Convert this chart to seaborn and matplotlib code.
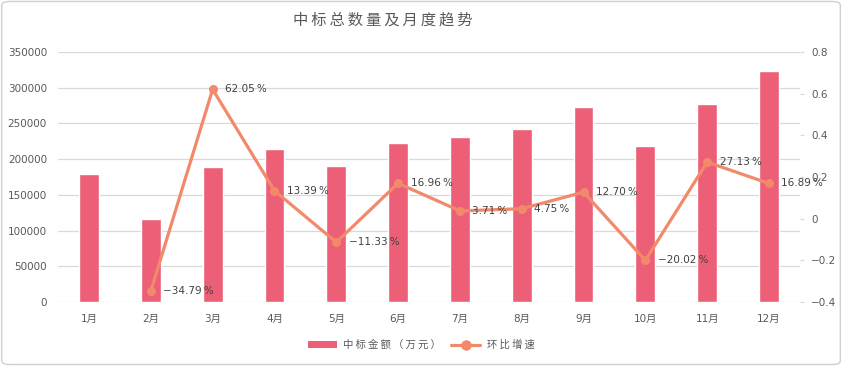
import numpy as np
import pandas as pd
import matplotlib
matplotlib.use('Agg')
import matplotlib.pyplot as plt
from matplotlib.patches import FancyBboxPatch, Patch
from matplotlib.lines import Line2D
import seaborn as sns

months = ['1月', '2月', '3月', '4月', '5月', '6月', '7月', '8月', '9月', '10月', '11月', '12月']
amount = [179000, 116700, 189100, 214400, 190100, 222400, 230600, 241600, 272300, 217800, 276900, 323700]
growth = [np.nan, -0.3479, 0.6205, 0.1339, -0.1133, 0.1696, 0.0371, 0.0475, 0.1270, -0.2002, 0.2713, 0.1689]

bar_color = '#EC5F77'
line_color = '#F2896B'
text_color = '#595959'

sns.set_style('white')
plt.rcParams['font.family'] = ['DejaVu Sans', 'Noto Sans CJK SC']
plt.rcParams['axes.unicode_minus'] = True

df = pd.DataFrame({'month': months, 'amount': amount, 'growth': growth})


def spaced(s):
    # letter spacing like the original chart
    return '\u2009'.join(s)


fig = plt.figure(figsize=(8.42, 3.66), dpi=100)
ax = fig.add_axes([0.069, 0.175, 0.881, 0.683])

sns.barplot(data=df, x='month', y='amount', color=bar_color, width=0.32,
            saturation=1, ax=ax)
ax.set_ylim(0, 350000)
ax.set_yticks(np.arange(0, 350001, 50000))
ax.set_xlim(-0.5, 11.5)
ax.grid(axis='y', color='#D9D9D9', linewidth=0.9)
ax.set_axisbelow(True)
ax.set_xlabel('')
ax.set_ylabel('')
for s in ax.spines.values():
    s.set_visible(False)
ax.tick_params(axis='both', length=0, colors=text_color, labelsize=7.5, pad=8)
ax.tick_params(axis='x', pad=9)

ax2 = ax.twinx()
sns.lineplot(x=np.arange(len(months)), y=df['growth'], color=line_color, linewidth=2.3,
             marker='o', markersize=6.5, markeredgewidth=0, ax=ax2)
ax2.set_ylim(-0.4, 0.8)
ax2.set_yticks(np.arange(-0.4, 0.81, 0.2))
ax2.set_yticklabels(['−0.4', '−0.2', '0', '0.2', '0.4', '0.6', '0.8'])
ax2.set_ylabel('')
for s in ax2.spines.values():
    s.set_visible(False)
ax2.tick_params(axis='y', length=3, color='#D9D9D9', colors=text_color, labelsize=7.5, pad=5)
ax2.set_xlim(-0.5, 11.5)

for i, g in enumerate(growth):
    if np.isnan(g):
        continue
    lbl = f'{g * 100:.2f}\u2009%'.replace('-', '−')
    ax2.annotate(lbl, (i, g), xytext=(9, 0), textcoords='offset points',
                 va='center', ha='left', fontsize=7.5, color='#404040')

fig.text(0.455, 0.945, spaced('中标总数量及月度趋势'), ha='center', va='center',
         fontsize=11, color=text_color, fontweight='medium')

handles = [Patch(facecolor=bar_color, edgecolor='none'),
           Line2D([0], [0], color=line_color, linewidth=2.3, marker='o', markersize=6.5)]
fig.legend(handles, [spaced('中标金额（万元）'), spaced('环比增速')], loc='center',
           bbox_to_anchor=(0.5, 0.057), ncol=2, frameon=False, fontsize=7.5,
           labelcolor=text_color, handlelength=2.8, handleheight=0.7,
           columnspacing=1.0, handletextpad=0.6)

fig.patches.append(FancyBboxPatch((0.002, 0.004), 0.996, 0.992, boxstyle='round,pad=0,rounding_size=0.01',
                                  transform=fig.transFigure, facecolor='none', edgecolor='#D0D0D0',
                                  linewidth=1))

fig.savefig('out.png', dpi=100)
